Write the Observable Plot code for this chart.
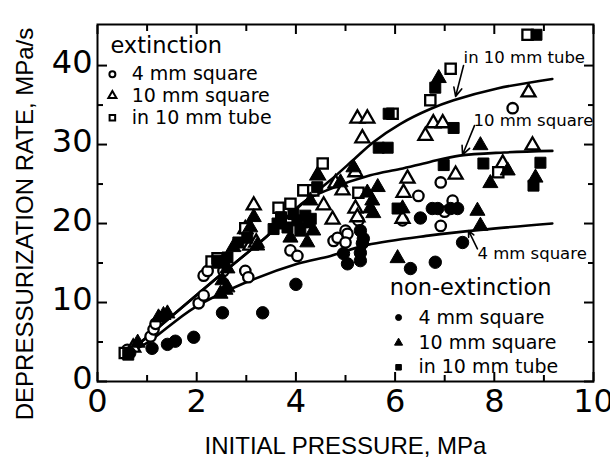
<!DOCTYPE html>
<html><head><meta charset="utf-8">
<script src="https://cdn.jsdelivr.net/npm/d3@7"></script>
<script src="https://cdn.jsdelivr.net/npm/@observablehq/plot@0.6"></script>
<style>body{margin:0;background:#fff} #chart{width:610px;height:460px}</style>
</head><body><div id="chart"></div>
<script>
// ---- axis ticks ----
const xMajor = [0, 2, 4, 6, 8, 10];
const xMinor = [1, 3, 5, 7, 9];
const yMajor = [0, 10, 20, 30, 40];
const yMinor = [5, 15, 25, 35];
const xTitle = "INITIAL PRESSURE, MPa";
const yTitle = "DEPRESSURIZATION RATE, MPa/s";

// ---- extinction (open symbols) ----
const ext4mm = [[0.60,4.0],[1.07,5.7],[1.13,6.6],[1.17,7.3],[2.04,9.9],[2.14,10.9],[2.14,13.4],[2.22,14.0],[2.54,14.0],[2.98,14.0],[3.04,13.2],[3.89,16.6],[4.03,15.9],[4.76,17.8],[4.84,18.2],[5.00,19.1],[5.04,18.7],[5.00,17.6],[5.26,20.4],[6.15,20.4],[6.47,23.5],[6.92,25.2],[7.16,22.9],[6.92,19.7],[7.00,21.5],[8.37,34.6]];
const ext10mm = [[0.72,4.3],[2.98,19.3],[3.08,17.2],[3.20,17.6],[3.15,22.3],[4.44,26.1],[4.56,22.3],[4.74,20.5],[4.80,25.1],[4.94,24.2],[5.20,26.5],[5.20,21.9],[5.24,20.8],[5.24,33.3],[5.44,33.3],[5.34,30.8],[6.15,20.6],[6.17,23.9],[6.25,25.7],[6.61,31.1],[6.77,32.7],[6.96,32.7],[7.22,26.2],[8.17,27.6],[8.69,36.6],[8.77,29.9]];
const extTube = [[0.55,3.6],[2.30,15.2],[2.42,15.6],[2.98,19.4],[3.65,22.0],[3.89,22.5],[4.15,24.2],[4.35,24.2],[4.54,27.6],[5.26,23.9],[5.95,33.9],[6.71,35.6],[7.12,39.6],[8.08,26.5],[8.67,43.9]];

// ---- non-extinction (filled symbols) ----
const non4mm = [[0.65,3.6],[1.10,4.2],[1.41,4.7],[1.57,5.1],[1.94,5.6],[2.52,8.7],[3.33,8.7],[4.00,12.3],[4.96,16.2],[5.04,14.9],[5.30,15.3],[5.30,16.3],[5.34,17.5],[5.30,19.1],[5.36,18.1],[6.31,14.3],[6.81,15.1],[7.36,17.6],[6.51,20.7],[6.75,21.9],[6.86,21.9],[7.12,21.9],[7.26,21.9]];
const non10mm = [[0.81,4.9],[1.23,8.1],[1.33,8.4],[1.41,8.6],[2.48,11.1],[2.58,11.6],[2.62,11.9],[2.52,12.8],[2.62,14.3],[2.48,14.9],[2.74,17.0],[3.08,19.5],[3.15,20.8],[3.22,17.2],[3.89,18.2],[4.23,20.0],[4.35,19.1],[4.23,17.6],[4.29,22.9],[4.44,26.1],[4.90,25.2],[5.16,27.1],[5.44,23.9],[5.65,24.6],[5.54,22.9],[5.50,21.9],[5.56,21.3],[6.05,15.6],[6.15,21.9],[7.66,21.6],[7.72,19.7],[7.72,29.9],[7.92,25.1],[8.27,26.7],[8.83,25.8],[6.88,38.4]];
const nonTube = [[0.62,3.4],[2.42,15.3],[2.62,15.7],[2.84,17.6],[3.02,18.2],[3.55,19.3],[3.63,20.0],[3.70,20.8],[3.83,19.5],[3.95,21.2],[4.03,20.4],[4.09,19.1],[4.19,21.0],[4.30,20.6],[4.43,24.6],[5.67,29.6],[5.85,29.6],[5.87,33.9],[6.05,21.9],[6.81,37.2],[6.98,27.4],[7.18,32.1],[7.78,27.6],[8.79,24.8],[8.93,27.7],[8.85,43.9]];

// ---- fitted curves ----
const curveTube = [[0.6,3.5],[1.5,8.3],[2.5,13.6],[3.4,18.3],[4.2,22.9],[4.7,25.5],[5.2,28.3],[5.56,30.3],[6.1,32.6],[6.71,34.5],[7.18,35.6],[8.06,37.1],[9.17,38.3]];
const curve10mm = [[0.6,3.5],[1.5,8.3],[2.5,13.6],[3.4,18.3],[4.2,22.9],[4.7,24.4],[5.5,26.1],[6.1,26.9],[6.7,27.8],[7.3,28.6],[8.2,29.0],[9.17,29.2]];
const curve4mm = [[0.6,3.6],[1.0,4.9],[1.94,9.3],[2.94,12.4],[4.03,14.9],[4.7,15.9],[5.44,17.3],[6.71,18.5],[7.72,19.2],[9.17,20.0]];

// ---- curve annotations ----
const curveLabels = ["in 10 mm tube", "10 mm square", "4 mm square"];
const curveLabelX = [7.38, 7.58, 7.66];
const curveLabelY = [41.0, 33.0, 16.2];
const arrowFrom = [[7.38,40.0],[7.60,32.4],[7.66,16.8]];
const arrowTo = [[7.22,36.1],[7.36,28.7],[7.48,19.1]];

// ---- legends ----
const legendTitles = ["extinction", "non-extinction"];
const legendTitleX = [0.26, 5.89];
const legendTitleY = [42.5, 11.9];
const legendLabels = ["4 mm square", "10 mm square", "in 10 mm tube"];
const legendSymbols = ["circle", "triangle", "square"];
const extLegendY = [38.9, 36.2, 33.4];
const nonLegendY = [8.1, 4.9, 1.8];

const toXY = a => a.map(([x, y]) => ({x, y}));
const annotations = curveLabels.map((t, i) => ({text: t, x: curveLabelX[i], y: curveLabelY[i],
  x1: arrowFrom[i][0], y1: arrowFrom[i][1], x2: arrowTo[i][0], y2: arrowTo[i][1]}));
const titles = legendTitles.map((t, i) => ({text: t, x: legendTitleX[i], y: legendTitleY[i]}));
const legendItems = [
  ...legendLabels.map((t, i) => ({text: t, symbol: legendSymbols[i], filled: false, x: 0.30, tx: 0.69, y: extLegendY[i]})),
  ...legendLabels.map((t, i) => ({text: t, symbol: legendSymbols[i], filled: true, x: 6.07, tx: 6.47, y: nonLegendY[i]}))
];

const series = [
  {data: ext4mm, symbol: "circle", filled: false, r: 5.2},
  {data: ext10mm, symbol: "triangle", filled: false, r: 5.2},
  {data: extTube, symbol: "square", filled: false, r: 5.8},
  {data: non4mm, symbol: "circle", filled: true, r: 6.2},
  {data: non10mm, symbol: "triangle", filled: true, r: 5.6},
  {data: nonTube, symbol: "square", filled: true, r: 6.2}
];

const tickAxis = (fn, anchor, ticks, size) => fn({anchor, ticks, tickSize: -size, fill: "none", stroke: "black", strokeWidth: 2, label: null});

const chart = Plot.plot({
  width: 610, height: 460,
  marginTop: 24, marginBottom: 79, marginLeft: 97, marginRight: 17,
  style: {fontFamily: "DejaVu Sans", background: "white", color: "black", overflow: "visible"},
  x: {domain: [0, 10]},
  y: {domain: [0, 45.2]},
  marks: [
    // curves
    Plot.line(toXY(curveTube), {x: "x", y: "y", curve: "catmull-rom", stroke: "black", strokeWidth: 2.6}),
    Plot.line(toXY(curve10mm), {x: "x", y: "y", curve: "catmull-rom", stroke: "black", strokeWidth: 2.6}),
    Plot.line(toXY(curve4mm), {x: "x", y: "y", curve: "catmull-rom", stroke: "black", strokeWidth: 2.6}),
    // data
    ...series.map(s => Plot.dot(toXY(s.data), {x: "x", y: "y", symbol: s.symbol, r: s.r,
      fill: s.filled ? "black" : "white", stroke: "black", strokeWidth: s.filled ? 1 : 2.3})),
    // annotations
    Plot.arrow(annotations, {x1: "x1", y1: "y1", x2: "x2", y2: "y2", stroke: "black", strokeWidth: 1.6, headLength: 9, headAngle: 50}),
    Plot.text(annotations, {x: "x", y: "y", text: "text", textAnchor: "start", fontSize: 16.5, fill: "black"}),
    // legends
    Plot.text(titles, {x: "x", y: "y", text: "text", textAnchor: "start", fontSize: 22.5, fill: "black"}),
    Plot.dot(legendItems, {x: "x", y: "y", symbol: "symbol", r: d => d.symbol === "square" ? 4.6 : 4.2,
      fill: d => d.filled ? "black" : "white", stroke: "black", strokeWidth: d => d.filled ? 1 : 2}),
    Plot.text(legendItems, {x: "tx", y: "y", text: "text", textAnchor: "start", fontSize: 19, fill: "black"}),
    // frame and axes
    Plot.frame({stroke: "black", strokeWidth: 2}),
    Plot.axisX({anchor: "bottom", ticks: xMajor, tickSize: 0, tickPadding: 8, fontSize: 32, fill: "black", label: null}),
    tickAxis(Plot.axisX, "bottom", xMajor, 9),
    tickAxis(Plot.axisX, "bottom", xMinor, 6),
    tickAxis(Plot.axisX, "top", xMajor, 9),
    tickAxis(Plot.axisX, "top", xMinor, 6),
    Plot.axisY({anchor: "left", ticks: yMajor, tickSize: 0, tickPadding: 5, fontSize: 32, fill: "black", dy: -3, label: null}),
    tickAxis(Plot.axisY, "left", yMajor, 10),
    tickAxis(Plot.axisY, "left", yMinor, 6),
    tickAxis(Plot.axisY, "right", yMajor, 10),
    tickAxis(Plot.axisY, "right", yMinor, 6),
    // axis titles
    Plot.text([xTitle], {text: d => d, frameAnchor: "bottom", textAnchor: "middle", lineAnchor: "middle", dy: 65, fontSize: 24, fontFamily: "Liberation Sans", fill: "black"}),
    Plot.text([yTitle], {text: d => d, frameAnchor: "left", textAnchor: "middle", lineAnchor: "middle", dx: -72, dy: 21, rotate: -90, fontSize: 24, fontFamily: "Liberation Sans", fill: "black"})
  ]
});
document.getElementById("chart").appendChild(chart);
</script></body></html>
